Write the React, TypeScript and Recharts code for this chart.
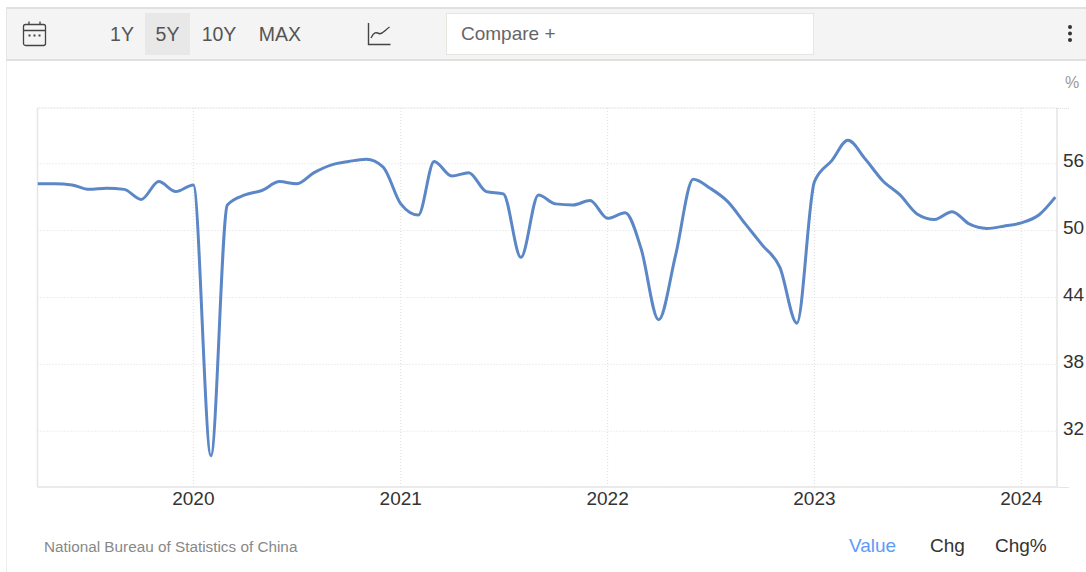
import { CartesianGrid, Line, LineChart, ReferenceLine, XAxis, YAxis } from "recharts";

const FONT = '"Liberation Sans", Arial, sans-serif';

// Monthly readings, April 2019 to March 2024
const startYear = 2019;
const startMonth = 3;
const values = [
  54.2, 54.2, 54.1, 53.7, 53.8, 53.7, 52.8, 54.4, 53.5,
  54.1, 29.8, 52.3, 53.2, 53.6, 54.4, 54.2, 55.2, 55.9, 56.2, 56.4, 55.7,
  52.4, 51.4, 56.2, 54.9, 55.2, 53.5, 53.3, 47.6, 53.2, 52.4, 52.3, 52.7,
  51.1, 51.6, 48.4, 42.0, 47.8, 54.6, 53.8, 52.6, 50.6, 48.7, 46.7, 41.7,
  54.4, 56.3, 58.1, 56.4, 54.5, 53.2, 51.5, 51.0, 51.7, 50.6, 50.2, 50.4,
  50.7, 51.4, 53.0,
];
const yearTicks = [2020, 2021, 2022, 2023, 2024];
const valueTicks = [32, 38, 44, 50, 56];
const rangeButtons = ["1Y", "5Y", "10Y", "MAX"];
const viewOptions = ["Value", "Chg", "Chg%"];

const data = values.map((value, i) => ({
  date: Date.UTC(startYear, startMonth + i, 1),
  value,
}));
const xTicks = yearTicks.map((y) => Date.UTC(y, 0, 1));
const xDomain = [data[0].date, Date.UTC(2024, 2, 4)];
const yDomain = [27, 61];

function CalendarIcon() {
  return (
    <svg width="26" height="28" viewBox="0 0 26 28" style={{ position: "absolute", left: 22, top: 20 }}>
      <rect x="1.5" y="4.5" width="22" height="21" rx="2" fill="none" stroke="#444" strokeWidth="1.3" />
      <path d="M1.5 10.5H23.5M7 1.5V4.5M18 1.5V4.5" stroke="#444" strokeWidth="1.3" fill="none" />
      <path d="M6.5 15.5h2M11.5 15.5h2M16.5 15.5h2" stroke="#444" strokeWidth="2" fill="none" />
    </svg>
  );
}

function LineIcon() {
  return (
    <svg width="26" height="26" viewBox="0 0 26 26" style={{ position: "absolute", left: 366, top: 21 }}>
      <path d="M2.5 2V23.5H24.5" stroke="#444" strokeWidth="1.4" fill="none" />
      <path d="M5 17C8 11 10 11 13 12.5C16 14 18 10 23.5 6" stroke="#444" strokeWidth="1.4" fill="none" />
    </svg>
  );
}

function Toolbar() {
  return (
    <div
      style={{
        position: "absolute",
        left: 6,
        top: 7,
        width: 1080,
        height: 50,
        background: "#f4f4f4",
        borderTop: "2px solid #e0e0e0",
        borderBottom: "2px solid #e0e0e0",
        borderLeft: "1px solid #e6e6e6",
      }}
    />
  );
}

const labelStyle = { position: "absolute", fontFamily: FONT, whiteSpace: "nowrap" } as const;

export default function App() {
  const buttonBoxes = [
    { left: 100, width: 44 },
    { left: 145, width: 45 },
    { left: 193, width: 52 },
    { left: 250, width: 60 },
  ];
  const optionX = [849, 930, 995];

  return (
    <div
      style={{
        position: "absolute",
        left: 0,
        top: 0,
        width: 1086,
        height: 572,
        background: "#fff",
        overflow: "hidden",
      }}
    >
      <div style={{ position: "absolute", left: 6, top: 60, width: 1, height: 512, background: "#eeeeee" }} />
      <Toolbar />
      <CalendarIcon />
      {rangeButtons.map((label, i) => (
        <div
          key={label}
          style={{
            ...labelStyle,
            left: buttonBoxes[i].left,
            top: 13,
            width: buttonBoxes[i].width,
            height: 42,
            lineHeight: "42px",
            textAlign: "center",
            fontSize: 19.5,
            color: "#555",
            background: label === "5Y" ? "#e8e8e8" : "transparent",
          }}
        >
          {label}
        </div>
      ))}
      <LineIcon />
      <div
        style={{
          ...labelStyle,
          left: 446,
          top: 13,
          width: 352,
          height: 40,
          lineHeight: "40px",
          paddingLeft: 14,
          fontSize: 19,
          color: "#666",
          background: "#fff",
          border: "1px solid #e6e6e0",
        }}
      >
        Compare +
      </div>
      <svg width="8" height="22" style={{ position: "absolute", left: 1066, top: 23 }}>
        <circle cx="4" cy="4" r="2" fill="#333" />
        <circle cx="4" cy="10.5" r="2" fill="#333" />
        <circle cx="4" cy="17" r="2" fill="#333" />
      </svg>
      <div style={{ ...labelStyle, left: 1065, top: 74, fontSize: 16, color: "#999" }}>%</div>

      <LineChart
        width={1086}
        height={572}
        data={data}
        margin={{ top: 108, right: 0, bottom: 0, left: 37.5 }}
        style={{ position: "absolute", left: 0, top: 0 }}
      >
        <CartesianGrid stroke="#dedede" strokeDasharray="1 2" />
        <XAxis
          dataKey="date"
          type="number"
          scale="time"
          domain={xDomain}
          ticks={xTicks}
          tickFormatter={(t: number) => String(new Date(t).getUTCFullYear())}
          axisLine={{ stroke: "#e6e6e6", strokeWidth: 1.5 }}
          tickLine={false}
          tickSize={0}
          tick={{ fill: "#333", fontSize: 19, fontFamily: FONT }}
          tickMargin={5}
          height={85}
          interval={0}
          allowDataOverflow
        />
        <YAxis
          orientation="right"
          type="number"
          domain={yDomain}
          ticks={valueTicks}
          width={29}
          axisLine={{ stroke: "#e6e6e6", strokeWidth: 1.5 }}
          tickLine={false}
          tickSize={0}
          tick={{ fill: "#333", fontSize: 19, fontFamily: FONT, dy: -3 }}
          tickMargin={6}
          interval={0}
          allowDataOverflow
        />
        <ReferenceLine y={61} stroke="#dedede" strokeDasharray="1 2" />
        <ReferenceLine x={xDomain[0]} stroke="#e6e6e6" strokeWidth={1.5} />
        <Line
          dataKey="value"
          type="monotone"
          stroke="#5b87c7"
          strokeWidth={3}
          dot={false}
          activeDot={false}
          isAnimationActive={false}
        />
      </LineChart>

      <div style={{ position: "absolute", left: 1057, top: 108, width: 12, height: 0, borderTop: "1px dotted #dedede" }} />
      <div style={{ position: "absolute", left: 1057, top: 487, width: 12, height: 1, background: "#e6e6e6" }} />

      <div style={{ ...labelStyle, left: 44, top: 538, fontSize: 15.3, color: "#888" }}>
        National Bureau of Statistics of China
      </div>
      {viewOptions.map((label, i) => (
        <div
          key={label}
          style={{
            ...labelStyle,
            left: optionX[i],
            top: 535,
            fontSize: 19,
            color: label === "Value" ? "#5c9bfa" : "#333",
          }}
        >
          {label}
        </div>
      ))}
    </div>
  );
}
